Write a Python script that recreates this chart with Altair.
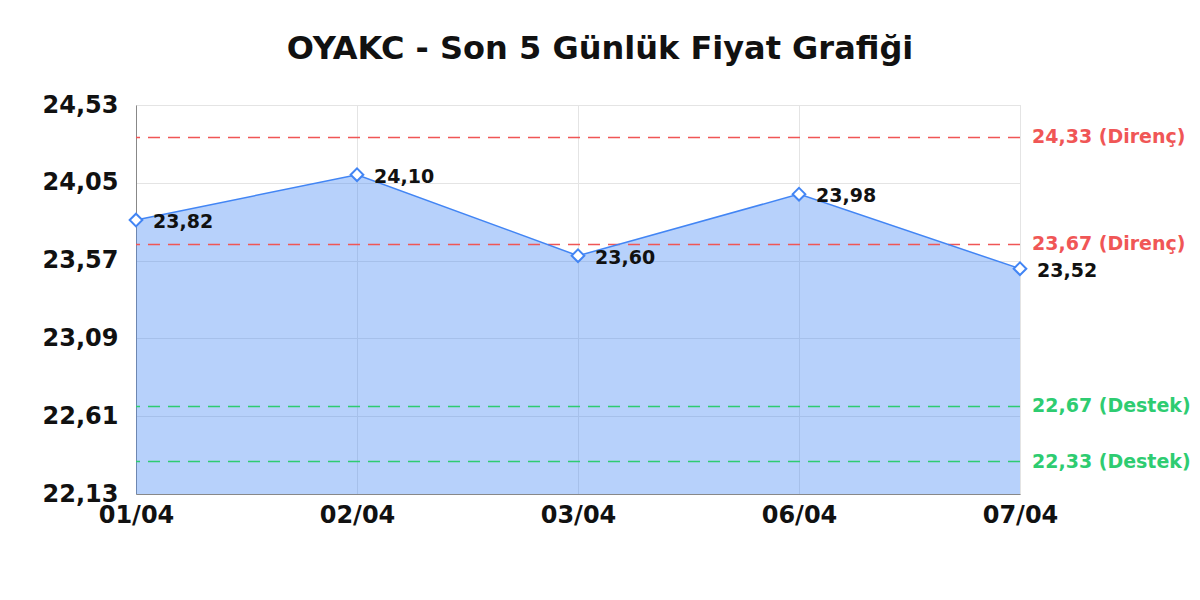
import altair as alt
import pandas as pd

dates = ["01/04", "02/04", "03/04", "06/04", "07/04"]
prices = [23.82, 24.10, 23.60, 23.98, 23.52]
y_ticks = [22.13, 22.61, 23.09, 23.57, 24.05, 24.53]
level_values = [24.33, 23.67, 22.67, 22.33]
level_names = ["Direnç", "Direnç", "Destek", "Destek"]
level_colors = ["#f05656", "#f05656", "#2ecc71", "#2ecc71"]

FONT = "DejaVu Sans"
LINE = "#4285f4"

df = pd.DataFrame({"date": dates, "price": prices})
df["label"] = [f"{p:.2f}".replace(".", ",") for p in prices]

lv = pd.DataFrame({"value": level_values, "name": level_names, "color": level_colors})
lv["label"] = [f"{v:.2f}".replace(".", ",") + f" ({n})" for v, n in zip(level_values, level_names)]

W, H = 884, 389

x_enc = alt.X("date:N", sort=dates, scale=alt.Scale(type="point", padding=0),
              axis=alt.Axis(title=None, labelAngle=0, ticks=False, labelPadding=9,
                            labelFontSize=24, labelFontWeight="bold", labelColor="#111",
                            labelFont=FONT, domainColor="#888", grid=True,
                            gridColor="#e4e4e4"))
y_scale = alt.Scale(domain=[22.13, 24.53], zero=False, nice=False)
y_enc = alt.Y("price:Q", scale=y_scale,
              axis=alt.Axis(title=None, values=y_ticks, ticks=False, labelPadding=18,
                            labelFontSize=24, labelFontWeight="bold", labelColor="#111",
                            labelFont=FONT, domainColor="#888", gridColor="#e4e4e4",
                            labelExpr="replace(format(datum.value, '.2f'), '.', ',')"))

base = alt.Chart(df)

area = base.mark_area(color=LINE, opacity=0.38, clip=True).encode(
    x=x_enc, y=y_enc, y2=alt.Y2(datum=22.13))
line = base.mark_line(color=LINE, strokeWidth=1.5).encode(x=x_enc, y=y_enc)
pts = base.mark_point(shape="diamond", filled=True, fill="white", stroke=LINE,
                      strokeWidth=2, size=160, opacity=1).encode(x=x_enc, y=y_enc)
labels = base.mark_text(align="left", baseline="middle", dx=17, dy=2, fontSize=19,
                        fontWeight="bold", font=FONT, color="#111").encode(
    x=x_enc, y=y_enc, text="label:N")

rules = alt.Chart(lv).mark_rule(strokeDash=[12, 8], strokeWidth=1.5).encode(
    y=alt.Y("value:Q", scale=y_scale),
    color=alt.Color("color:N", scale=None))
rule_labels = alt.Chart(lv).mark_text(align="left", baseline="middle", fontSize=19,
                                      fontWeight="bold", font=FONT, clip=False).encode(
    x=alt.value(W + 12),
    y=alt.Y("value:Q", scale=y_scale),
    text="label:N",
    color=alt.Color("color:N", scale=None))

chart = alt.layer(area, rules, line, pts, labels, rule_labels).properties(
    width=W, height=H,
    title=alt.TitleParams("OYAKC - Son 5 Günlük Fiyat Grafiği", fontSize=32,
                          fontWeight="bold", font=FONT, color="#111", dx=22, offset=27),
    autosize=alt.AutoSizeParams(type="none"),
    padding={"left": 128, "top": 97, "right": 172, "bottom": 80},
).configure_view(stroke=None).configure(background="white")

chart.save("out.html", embed_options={"renderer": "svg", "actions": False})
